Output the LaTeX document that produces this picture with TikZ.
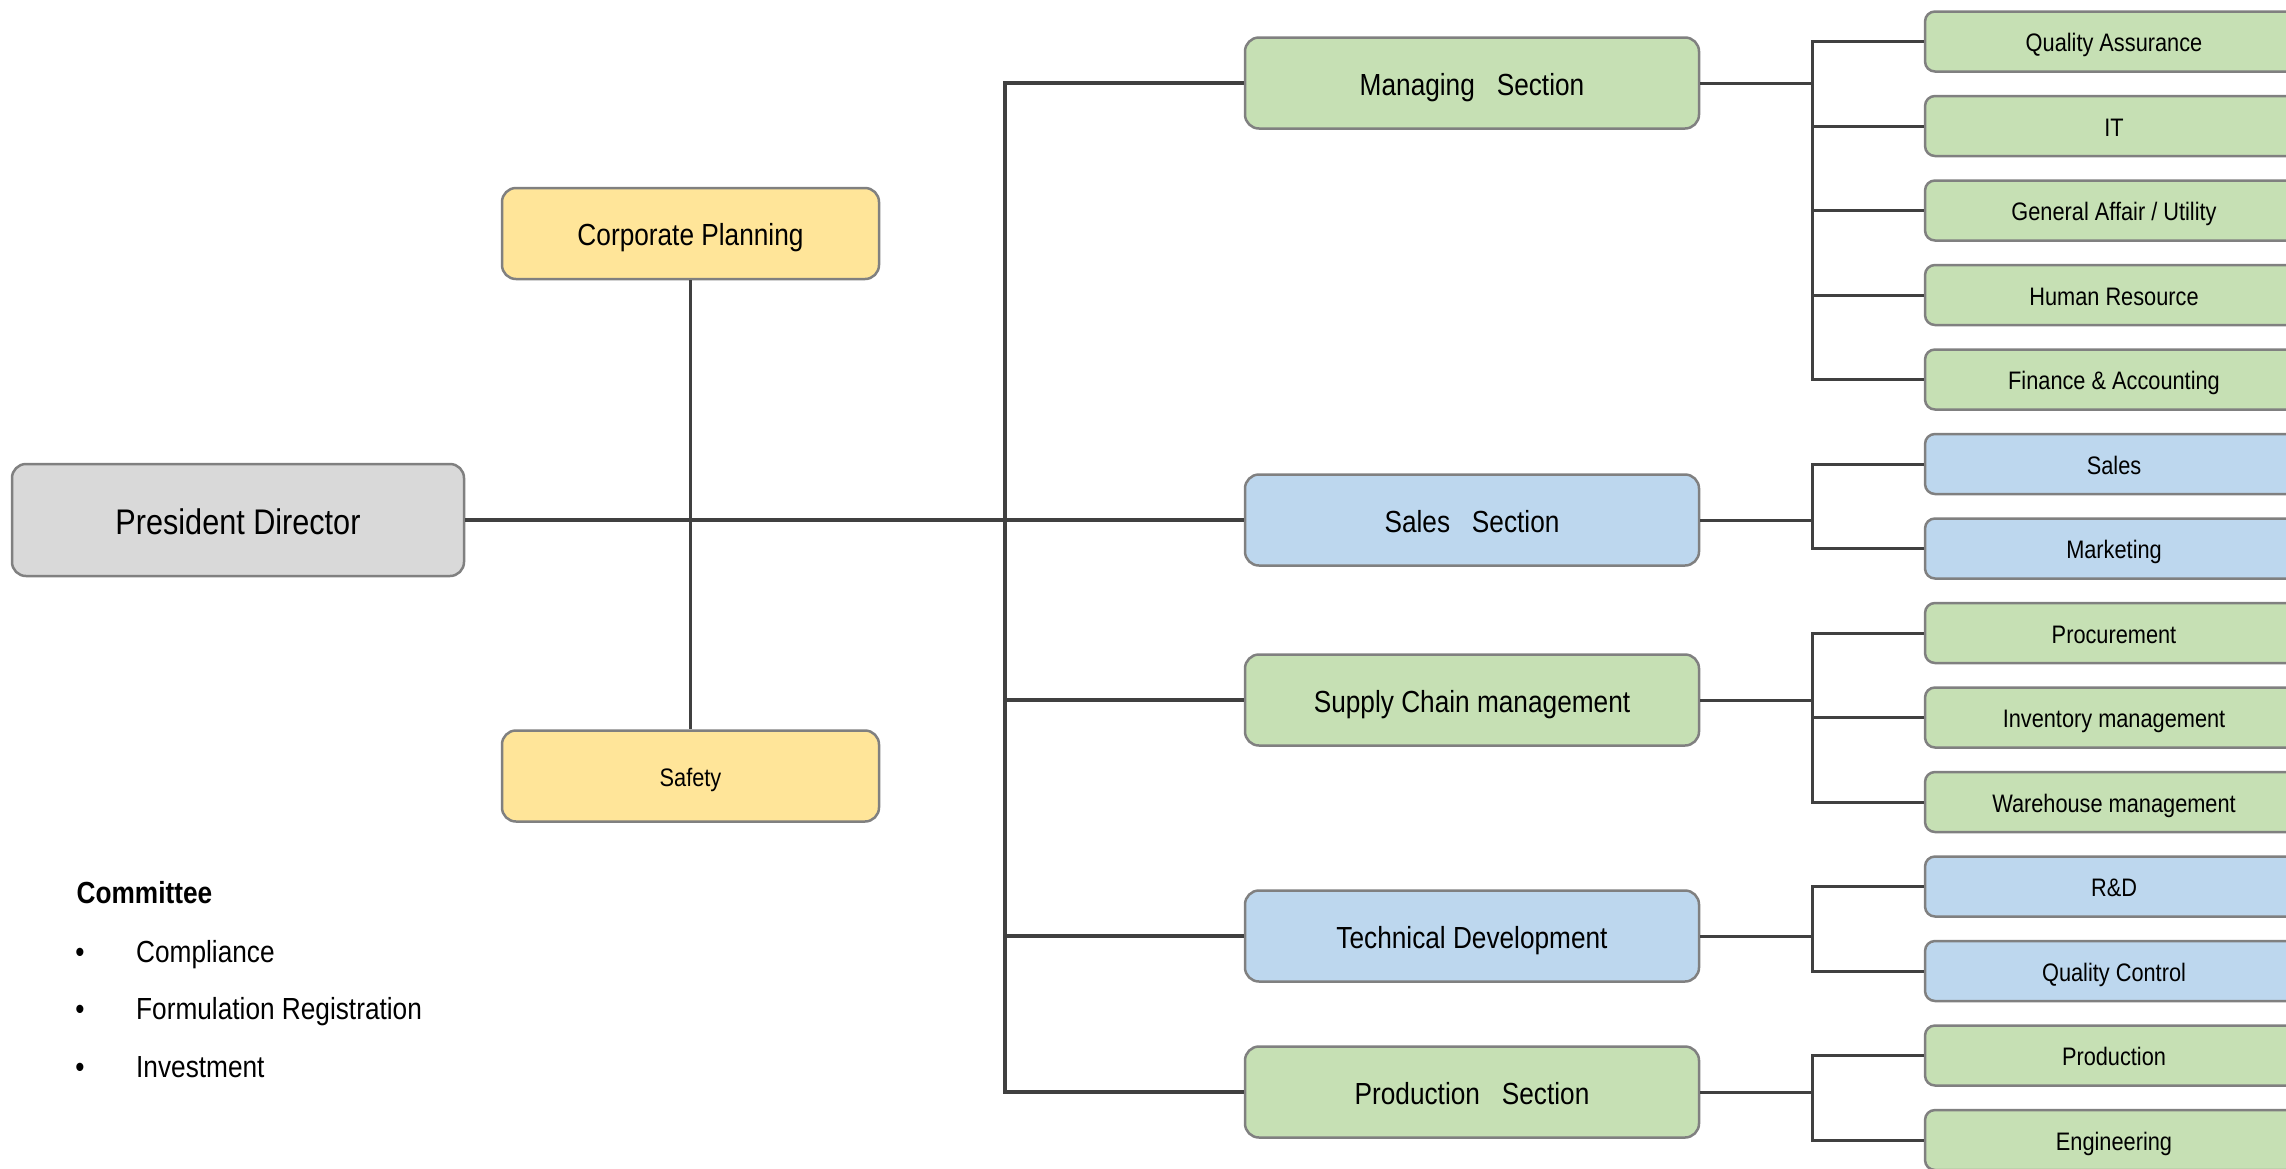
\documentclass[tikz,border=0pt]{standalone}
\usepackage{fontspec}
\setmainfont{Liberation Sans}[FakeStretch=0.86]
\definecolor{lnc}{HTML}{404040}
\definecolor{bdc}{HTML}{808080}
\definecolor{grn}{HTML}{C6E0B4}
\definecolor{blu}{HTML}{BDD7EE}
\definecolor{yel}{HTML}{FFE599}
\definecolor{gry}{HTML}{D9D9D9}
\begin{document}
\begin{tikzpicture}[x=1pt,y=-1pt,
  box/.style={draw=bdc,line width=2.5pt,rounded corners=14pt,inner sep=0pt,shape=rectangle,align=center},
  bigtxt/.style={font=\fontsize{35.6}{40}\selectfont,text height=28pt,text depth=0pt},
  midtxt/.style={font=\fontsize{30.5}{36}\selectfont,text height=24pt,text depth=0pt},
  smltxt/.style={font=\fontsize{25.3}{30}\selectfont,text height=20pt,text depth=0pt},
  sect/.style={box,midtxt,minimum width=454pt,minimum height=91pt},
  subbox/.style={box,smltxt,rounded corners=10pt,minimum width=378pt,minimum height=60pt},
  conn/.style={draw=lnc,line width=3pt},
  trunkline/.style={draw=lnc,line width=4pt},
  listtxt/.style={font=\fontsize{30.5}{36}\selectfont,inner sep=0pt}
]
\useasboundingbox (0,0) rectangle (2286,1168);
\clip (0,0) rectangle (2286,1168);
\fill[white] (0,0) rectangle (2286,1168);

% main boxes
\node[box,bigtxt,fill=gry,minimum width=452pt,minimum height=112pt] (pd) at (238,520) {President Director};
\node[box,midtxt,fill=yel,minimum width=377pt,minimum height=91pt] (cp) at (690.5,233.5) {Corporate Planning};
\node[box,smltxt,fill=yel,minimum width=377pt,minimum height=91pt] (sf) at (690.5,776) {Safety};

% sections
\node[sect,fill=grn] (man) at (1472,83) {Managing~~~Section};
\node[sect,fill=blu] (sal) at (1472,520) {Sales~~~Section};
\node[sect,fill=grn] (sup) at (1472,700) {Supply Chain management};
\node[sect,fill=blu] (tec) at (1472,936) {Technical Development};
\node[sect,fill=grn] (pro) at (1472,1092) {Production~~~Section};

% sub units
\node[subbox,fill=grn] (s0) at (2114,41.5) {Quality Assurance};
\node[subbox,fill=grn] (s1) at (2114,126) {IT};
\node[subbox,fill=grn] (s2) at (2114,210.5) {General Affair / Utility};
\node[subbox,fill=grn] (s3) at (2114,295) {Human Resource};
\node[subbox,fill=grn] (s4) at (2114,379.5) {Finance \& Accounting};
\node[subbox,fill=blu] (s5) at (2114,464) {Sales};
\node[subbox,fill=blu] (s6) at (2114,548.5) {Marketing};
\node[subbox,fill=grn] (s7) at (2114,633) {Procurement};
\node[subbox,fill=grn] (s8) at (2114,717.5) {Inventory management};
\node[subbox,fill=grn] (s9) at (2114,802) {Warehouse management};
\node[subbox,fill=blu] (s10) at (2114,886.5) {R\&D};
\node[subbox,fill=blu] (s11) at (2114,971) {Quality Control};
\node[subbox,fill=grn] (s12) at (2114,1055.5) {Production};
\node[subbox,fill=grn] (s13) at (2114,1140) {Engineering};

% connectors: president / staff
\draw[trunkline] (pd) -- (sal);
\draw[conn] (cp) -- (sf);
\coordinate (tk) at (1005,0);
\draw[trunkline] (man.west) -| (tk |- pro.west) -- (pro.west);
\draw[trunkline] (sup.west) -- (sup.west -| tk);
\draw[trunkline] (tec.west) -- (tec.west -| tk);

% connectors: brackets
\coordinate (bx) at (1812,0);
\draw[conn] (man.east) -- (man.east -| bx);
\draw[conn] (s0.west) -| (bx |- s4.west) -- (s4.west);
\foreach \i in {1,2,3} \draw[conn] (s\i.west) -- (s\i.west -| bx);
\draw[conn] (sal.east) -- (sal.east -| bx);
\draw[conn] (s5.west) -| (bx |- s6.west) -- (s6.west);
\draw[conn] (sup.east) -- (sup.east -| bx);
\draw[conn] (s7.west) -| (bx |- s9.west) -- (s9.west);
\draw[conn] (s8.west) -- (s8.west -| bx);
\draw[conn] (tec.east) -- (tec.east -| bx);
\draw[conn] (s10.west) -| (bx |- s11.west) -- (s11.west);
\draw[conn] (pro.east) -- (pro.east -| bx);
\draw[conn] (s12.west) -| (bx |- s13.west) -- (s13.west);

% committee list
\node[listtxt,anchor=base west] (cmt) at (76.5,903.5) {\bfseries Committee};
\node[listtxt,anchor=base] (b1) at (80,962) {\textbullet};
\node[listtxt,anchor=base west] (l1) at (136,962) {Compliance};
\node[listtxt,anchor=base] (b2) at (80,1019.5) {\textbullet};
\node[listtxt,anchor=base west] (l2) at (136,1019.5) {Formulation Registration};
\node[listtxt,anchor=base] (b3) at (80,1077) {\textbullet};
\node[listtxt,anchor=base west] (l3) at (136,1077) {Investment};
\end{tikzpicture}
\end{document}
